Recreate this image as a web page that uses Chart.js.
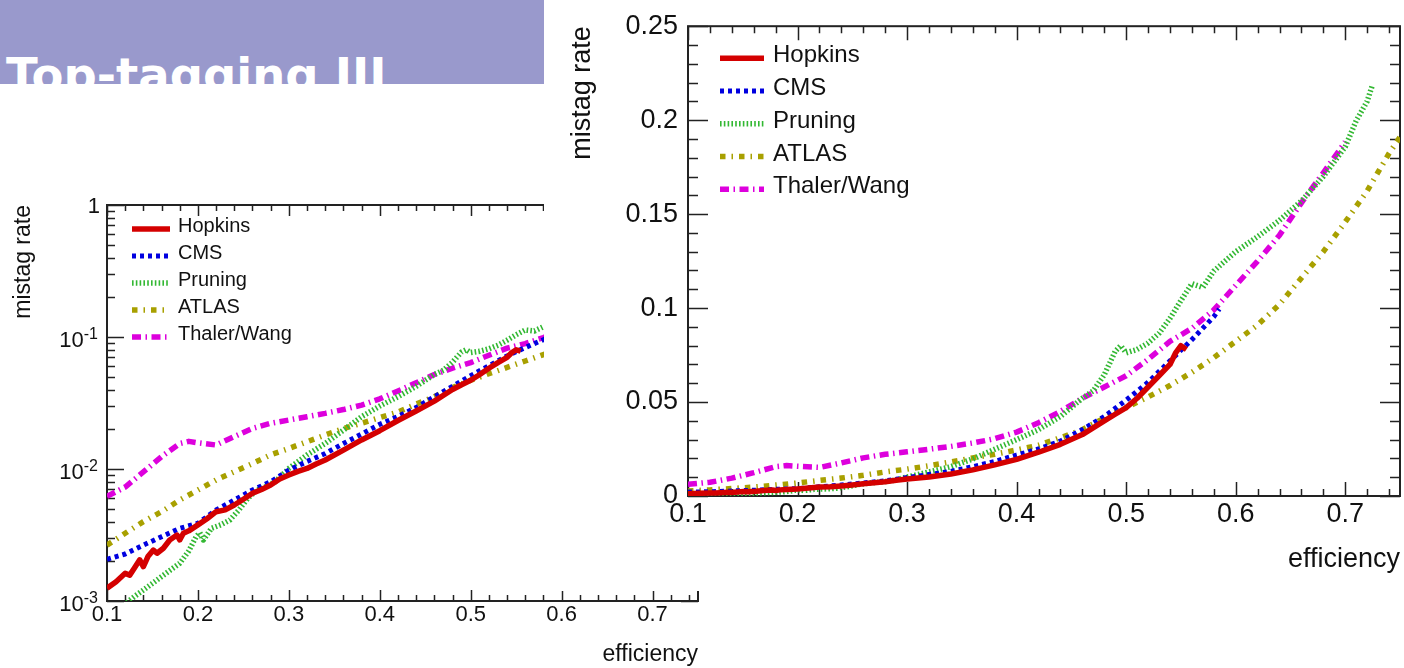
<!DOCTYPE html>
<html>
<head>
<meta charset="utf-8">
<title>Top-tagging III</title>
<script src="https://cdn.jsdelivr.net/npm/chart.js@4.4.1/dist/chart.umd.min.js"></script>
<style>
  html, body { margin: 0; padding: 0; background: #fff; width: 1404px; height: 668px; overflow: hidden; position: relative; }
  #banner { position: absolute; left: 0; top: 0; width: 544px; height: 84px; background: #9999cc; overflow: hidden; }
  #banner span { position: absolute; left: 6px; top: 52px; font: bold 46.5px/46px "DejaVu Sans", sans-serif; color: #fff; white-space: nowrap; }
  #logChart { position: absolute; left: 0; top: 190px; }
  #linChart { position: absolute; left: 544px; top: 0; background: #fff; }
</style>
</head>
<body>
<div id="banner"><span>Top-tagging III</span></div>
<canvas id="logChart" width="706" height="478"></canvas>
<canvas id="linChart" width="860" height="591"></canvas>
<script>
// ---- mistag rate vs. top-tagging efficiency for five taggers ----
const hopkinsEff  = [0.10, 0.11, 0.12, 0.125, 0.13, 0.136, 0.14, 0.145, 0.151, 0.155, 0.162, 0.169, 0.177, 0.18, 0.184, 0.19, 0.20, 0.21, 0.22, 0.23, 0.24, 0.25, 0.26, 0.27, 0.28, 0.29, 0.30, 0.31, 0.32, 0.33, 0.34, 0.36, 0.38, 0.40, 0.42, 0.44, 0.46, 0.48, 0.49, 0.50, 0.51, 0.52, 0.53, 0.54, 0.545, 0.55, 0.555];
const hopkinsRate = [0.00125, 0.00140, 0.00162, 0.00157, 0.00177, 0.00205, 0.00182, 0.00217, 0.00243, 0.00230, 0.00251, 0.00290, 0.00316, 0.00290, 0.00326, 0.00340, 0.00377, 0.00420, 0.00475, 0.00490, 0.00534, 0.00590, 0.00655, 0.00700, 0.00757, 0.00840, 0.00900, 0.00960, 0.01010, 0.01090, 0.01170, 0.01390, 0.01660, 0.01950, 0.02330, 0.02750, 0.03270, 0.04000, 0.04350, 0.04700, 0.05200, 0.05800, 0.06400, 0.07000, 0.07600, 0.08000, 0.07800];

const cmsEff  = [0.10, 0.12, 0.14, 0.16, 0.18, 0.20, 0.22, 0.24, 0.26, 0.28, 0.30, 0.32, 0.34, 0.36, 0.38, 0.40, 0.42, 0.44, 0.46, 0.48, 0.50, 0.52, 0.54, 0.56, 0.58, 0.585];
const cmsRate = [0.00207, 0.00227, 0.00265, 0.00307, 0.00355, 0.00388, 0.00489, 0.00582, 0.00693, 0.00800, 0.00980, 0.01140, 0.01310, 0.01560, 0.01840, 0.02180, 0.02500, 0.02920, 0.03530, 0.04230, 0.05100, 0.06050, 0.07190, 0.08320, 0.09540, 0.09950];

const pruningEff  = [0.10, 0.11, 0.12, 0.13, 0.14, 0.15, 0.16, 0.17, 0.18, 0.19, 0.198, 0.202, 0.206, 0.215, 0.225, 0.235, 0.245, 0.255, 0.265, 0.275, 0.285, 0.30, 0.32, 0.34, 0.36, 0.38, 0.40, 0.42, 0.44, 0.46, 0.47, 0.48, 0.49, 0.495, 0.50, 0.51, 0.52, 0.53, 0.54, 0.55, 0.56, 0.57, 0.58, 0.60, 0.62, 0.64, 0.66, 0.68, 0.70, 0.71, 0.72, 0.725];
const pruningRate = [0.00060, 0.00075, 0.00095, 0.00108, 0.00121, 0.00136, 0.00153, 0.00172, 0.00193, 0.00240, 0.00307, 0.00329, 0.00290, 0.00356, 0.00377, 0.00410, 0.00489, 0.00600, 0.00693, 0.00735, 0.00800, 0.01010, 0.01280, 0.01560, 0.01970, 0.02490, 0.03000, 0.03530, 0.04230, 0.05200, 0.05600, 0.06450, 0.07700, 0.08000, 0.07620, 0.07800, 0.08140, 0.08660, 0.09450, 0.10400, 0.11300, 0.11100, 0.11970, 0.13000, 0.13800, 0.14670, 0.15700, 0.17000, 0.18580, 0.19970, 0.21000, 0.21900];

const atlasEff  = [0.10, 0.12, 0.14, 0.16, 0.18, 0.20, 0.22, 0.24, 0.26, 0.28, 0.30, 0.32, 0.34, 0.36, 0.38, 0.40, 0.42, 0.44, 0.46, 0.48, 0.50, 0.52, 0.54, 0.56, 0.58, 0.60, 0.62, 0.64, 0.66, 0.68, 0.70, 0.72, 0.74, 0.75];
const atlasRate = [0.00265, 0.00326, 0.00399, 0.00475, 0.00582, 0.00693, 0.00826, 0.00954, 0.01100, 0.01280, 0.01430, 0.01610, 0.01810, 0.02030, 0.02220, 0.02450, 0.02700, 0.03100, 0.03530, 0.04140, 0.04700, 0.05270, 0.05880, 0.06580, 0.07360, 0.08230, 0.09100, 0.10200, 0.11600, 0.13000, 0.14580, 0.16230, 0.18230, 0.19100];

const thalerEff  = [0.10, 0.12, 0.14, 0.16, 0.18, 0.19, 0.20, 0.22, 0.24, 0.26, 0.28, 0.30, 0.32, 0.34, 0.36, 0.38, 0.40, 0.42, 0.44, 0.46, 0.48, 0.50, 0.52, 0.54, 0.56, 0.58, 0.60, 0.62, 0.64, 0.66, 0.68, 0.70];
const thalerRate = [0.00620, 0.00730, 0.00950, 0.01240, 0.01560, 0.01620, 0.01580, 0.01520, 0.01760, 0.02030, 0.02220, 0.02350, 0.02490, 0.02640, 0.02820, 0.03050, 0.03400, 0.03900, 0.04500, 0.05200, 0.05800, 0.06400, 0.07270, 0.08230, 0.08920, 0.09900, 0.11200, 0.12500, 0.13880, 0.15600, 0.17200, 0.18840];

// ---- axis ticks ----
const effTicks      = [0.1, 0.2, 0.3, 0.4, 0.5, 0.6, 0.7];
const effTickLabels = ['0.1', '0.2', '0.3', '0.4', '0.5', '0.6', '0.7'];
const linRateTicks      = [0, 0.05, 0.1, 0.15, 0.2, 0.25];
const linRateTickLabels = ['0', '0.05', '0.1', '0.15', '0.2', '0.25'];
const logRateTicks   = [0.001, 0.01, 0.1, 1];
const logRateBase    = ['10', '10', '10', '1'];
const logRateExp     = ['-3', '-2', '-1', ''];

// ---- line styles (ROOT-like) ----
const seriesStyle = [
  { label: 'Hopkins',     eff: hopkinsEff, rate: hopkinsRate, color: '#d40000', width: 5.5, dash: [] },
  { label: 'CMS',         eff: cmsEff,     rate: cmsRate,     color: '#0000e0', width: 5,   dash: [4, 4] },
  { label: 'Pruning',     eff: pruningEff, rate: pruningRate, color: '#33b833', width: 5.5, dash: [1.6, 2.2] },
  { label: 'ATLAS',       eff: atlasEff,   rate: atlasRate,   color: '#a8a000', width: 5.5, dash: [5.5, 6, 1.5, 6] },
  { label: 'Thaler/Wang', eff: thalerEff,  rate: thalerRate,  color: '#dd00dd', width: 5.5, dash: [9, 4.5, 1.5, 4.5] }
];

const FONT = '"Liberation Sans", Arial, Helvetica, sans-serif';
Chart.defaults.font.family = FONT;
Chart.defaults.color = '#111';

function buildDatasets() {
  return seriesStyle.map(s => ({
    label: s.label,
    data: s.eff.map((e, i) => ({ x: e, y: s.rate[i] })),
    borderColor: s.color,
    backgroundColor: s.color,
    borderWidth: s.width,
    borderDash: s.dash,
    borderCapStyle: 'butt',
    borderJoinStyle: 'round',
    pointRadius: 0,
    fill: false,
    tension: 0
  }));
}

// Frame around the plot with inward major/minor tick marks on all four sides.
function framePlugin(cfg) {
  return {
    id: 'rootFrame',
    beforeDatasetsDraw(chart) {
      const { ctx, chartArea: a, scales } = chart;
      const xs = scales.x, ys = scales.y;
      ctx.save();
      ctx.strokeStyle = '#222';
      ctx.lineWidth = 1.5;
      ctx.beginPath();
      // x ticks (bottom and top)
      const xMaj = xs.ticks.map(t => t.value);
      const nx = Math.round((xs.max - xs.min) / cfg.xMinor);
      for (let i = 0; i <= nx; i++) {
        const v = xs.min + i * cfg.xMinor;
        const major = xMaj.some(m => Math.abs(m - v) < 1e-9);
        const len = major ? cfg.xMajorLen : cfg.xMinorLen;
        const px = Math.round(xs.getPixelForValue(v)) + 0.5;
        ctx.moveTo(px, a.bottom); ctx.lineTo(px, a.bottom - len);
        ctx.moveTo(px, a.top);    ctx.lineTo(px, a.top + len);
      }
      // y ticks (left and right)
      const yVals = [];
      if (cfg.yLog) {
        const lo = Math.round(Math.log10(ys.min)), hi = Math.round(Math.log10(ys.max));
        for (let d = lo; d < hi; d++) for (let k = 1; k <= 9; k++) yVals.push({ v: k * Math.pow(10, d), major: k === 1 });
        yVals.push({ v: ys.max, major: true });
      } else {
        const yMaj = ys.ticks.map(t => t.value);
        const ny = Math.round((ys.max - ys.min) / cfg.yMinor);
        for (let i = 0; i <= ny; i++) {
          const v = ys.min + i * cfg.yMinor;
          yVals.push({ v, major: yMaj.some(m => Math.abs(m - v) < 1e-9) });
        }
      }
      yVals.forEach(({ v, major }) => {
        const len = major ? cfg.yMajorLen : cfg.yMinorLen;
        const py = Math.round(ys.getPixelForValue(v)) + 0.5;
        ctx.moveTo(a.left, py);  ctx.lineTo(a.left + len, py);
        ctx.moveTo(a.right, py); ctx.lineTo(a.right - len, py);
      });
      ctx.stroke();
      ctx.lineWidth = 2;
      ctx.strokeRect(a.left, a.top, a.right - a.left, a.bottom - a.top);
      ctx.restore();
    }
  };
}

// Legend drawn inside the plot area, one row per dataset.
function legendPlugin(cfg) {
  return {
    id: 'innerLegend',
    afterDatasetsDraw(chart) {
      const { ctx, chartArea: a } = chart;
      ctx.save();
      chart.data.datasets.forEach((ds, i) => {
        const y = a.top + cfg.firstRow + i * cfg.rowGap;
        ctx.strokeStyle = ds.borderColor;
        ctx.lineWidth = ds.borderWidth;
        ctx.lineCap = 'butt';
        ctx.setLineDash(ds.borderDash || []);
        ctx.beginPath();
        ctx.moveTo(a.left + cfg.sampleX, y);
        ctx.lineTo(a.left + cfg.sampleX + cfg.sampleLen, y);
        ctx.stroke();
        ctx.setLineDash([]);
        ctx.fillStyle = '#111';
        ctx.font = cfg.fontSize + 'px ' + FONT;
        ctx.textAlign = 'left';
        ctx.textBaseline = 'middle';
        ctx.fillText(ds.label, a.left + cfg.textX, y - 2.5);
      });
      ctx.restore();
    }
  };
}

// Powers of ten with raised exponents for the logarithmic axis.
const powerLabelPlugin = {
  id: 'powerLabels',
  afterDraw(chart) {
    const { ctx, chartArea: a, scales } = chart;
    const ys = scales.y;
    const xr = a.left - 9;
    ctx.save();
    ctx.fillStyle = '#111';
    ctx.textAlign = 'right';
    ctx.textBaseline = 'alphabetic';
    ys.ticks.forEach((t, i) => {
      const py = ys.getPixelForValue(t.value);
      const base = logRateBase[i], exp = logRateExp[i];
      if (exp) {
        ctx.font = '16px ' + FONT;
        const ew = ctx.measureText(exp).width;
        ctx.fillText(exp, xr, py + 1.5);
        ctx.font = '22px ' + FONT;
        ctx.fillText(base, xr - ew, py + 10);
      } else {
        ctx.font = '22px ' + FONT;
        ctx.fillText(base, xr + 2, py + 8);
      }
    });
    ctx.restore();
  }
};

const commonOptions = {
  responsive: false,
  devicePixelRatio: 1,
  animation: false,
  events: [],
  plugins: { legend: { display: false }, tooltip: { enabled: false } }
};

// Logarithmic view
new Chart(document.getElementById('logChart'), {
  type: 'line',
  data: { datasets: buildDatasets() },
  options: Object.assign({}, commonOptions, {
    layout: { padding: { top: 15, right: 8, left: 0, bottom: 0 } },
    scales: {
      x: {
        type: 'linear', min: 0.1, max: 0.75,
        afterBuildTicks: ax => { ax.ticks = effTicks.map(v => ({ value: v })); },
        afterFit: ax => { ax.height = 67; },
        grid: { display: false, drawTicks: false },
        border: { display: false },
        ticks: { autoSkip: false, maxRotation: 0, padding: 1, color: '#111', font: { size: 22 },
                 callback: (v, i) => effTickLabels[i] },
        title: { display: true, text: 'efficiency', align: 'end', color: '#111', font: { size: 23 },
                 padding: { top: 0, bottom: 0 } }
      },
      y: {
        type: 'logarithmic', min: 0.001, max: 1,
        afterBuildTicks: ax => { ax.ticks = logRateTicks.map(v => ({ value: v })); },
        afterFit: ax => { ax.width = 107; },
        grid: { display: false, drawTicks: false },
        border: { display: false },
        ticks: { display: false },
        title: { display: true, text: 'mistag rate', align: 'end', color: '#111', font: { size: 23 },
                 padding: { top: 10, bottom: 0 } }
      }
    }
  }),
  plugins: [
    framePlugin({ xMinor: 0.02, xMajorLen: 11, xMinorLen: 6, yLog: true, yMajorLen: 17, yMinorLen: 8 }),
    legendPlugin({ firstRow: 24, rowGap: 27, sampleX: 25, sampleLen: 38, textX: 71, fontSize: 20 }),
    powerLabelPlugin
  ]
});

// Linear view
new Chart(document.getElementById('linChart'), {
  type: 'line',
  data: { datasets: buildDatasets() },
  options: Object.assign({}, commonOptions, {
    layout: { padding: { top: 17, right: 4, left: 0, bottom: 0 } },
    scales: {
      x: {
        type: 'linear', min: 0.1, max: 0.75,
        afterBuildTicks: ax => { ax.ticks = effTicks.map(v => ({ value: v })); },
        afterFit: ax => { ax.height = 95; },
        grid: { display: false, drawTicks: false },
        border: { display: false },
        ticks: { autoSkip: false, maxRotation: 0, padding: 2, color: '#111', font: { size: 27 },
                 callback: (v, i) => effTickLabels[i] },
        title: { display: true, text: 'efficiency', align: 'end', color: '#111', font: { size: 27 },
                 padding: { top: 0, bottom: 15 } }
      },
      y: {
        type: 'linear', min: 0, max: 0.25,
        afterBuildTicks: ax => { ax.ticks = linRateTicks.map(v => ({ value: v })); },
        afterFit: ax => { ax.width = 144; },
        grid: { display: false, drawTicks: false },
        border: { display: false },
        ticks: { autoSkip: false, padding: 10, color: '#111', font: { size: 27 },
                 callback: (v, i) => linRateTickLabels[i] },
        title: { display: true, text: 'mistag rate', align: 'end', color: '#111', font: { size: 27 },
                 padding: { top: 22, bottom: 0 } }
      }
    }
  }),
  plugins: [
    framePlugin({ xMinor: 0.02, xMajorLen: 14, xMinorLen: 7, yLog: false, yMinor: 0.01, yMajorLen: 20, yMinorLen: 10 }),
    legendPlugin({ firstRow: 32, rowGap: 32.75, sampleX: 32, sampleLen: 44, textX: 85, fontSize: 24 })
  ]
});
</script>
</body>
</html>
